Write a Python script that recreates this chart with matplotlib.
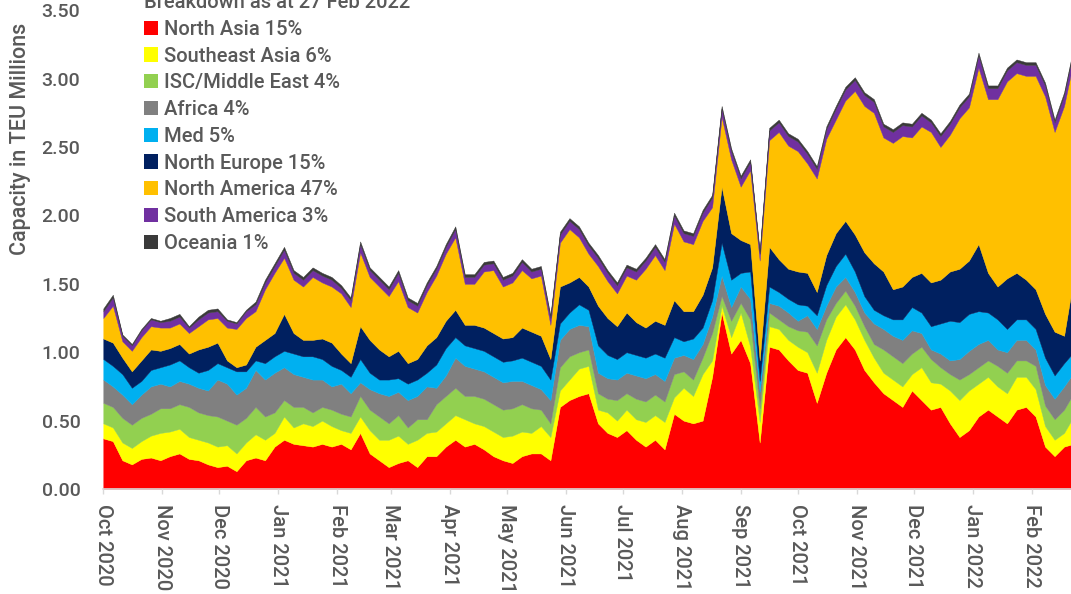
import numpy as np
import pandas as pd
import matplotlib
matplotlib.use("Agg")
import matplotlib.pyplot as plt
import matplotlib.dates as mdates
from matplotlib.patches import Patch

plt.rcParams['font.family'] = ['Roboto', 'DejaVu Sans']
plt.rcParams['font.weight'] = 'medium'

# ---- data: capacity in TEU millions, one sample every 5 days from 1 Oct 2020 ----
start_date = '2020-10-01'
n_points = 103

north_asia = [
    .37, .35, .21, .18, .22, .23, .21, .24, .26, .22, .21, .18, .16, .17, .13, .21, .23,
    .21, .31, .36, .33, .32, .31, .33, .31, .33, .29, .41, .26, .21, .16, .19, .21, .16, .24,
    .24, .31, .36, .31, .33, .29, .24, .21, .19, .24, .26, .26, .21, .60, .65, .68, .70,
    .48, .41, .38, .43, .36, .31, .36, .29, .55, .50, .48, .50, .82, 1.29, .99, 1.09, .92,
    .34,
    1.04, 1.02, .94, .87, .85, .63, .85, 1.02, 1.11, 1.02, .87, .78, .70, .65, .60, .72,
    .65, .58, .60, .48, .38, .43, .53, .58, .53, .48, .58, .60, .53, .31, .24, .31, .33]

southeast_asia = [
    .11, .10, .13, .12, .13, .16, .20, .18, .18, .16, .15, .16, .15, .15, .13, .13, .17,
    .15, .10, .17, .12, .16, .15, .17, .15, .10, .12, .12, .17, .15, .20, .20, .12, .20, .17,
    .18, .17, .18, .20, .15, .17, .18, .17, .20, .18, .15, .20, .17, .12, .15, .20, .20,
    .10, .15, .12, .15, .15, .18, .18, .20, .12, .24, .20, .34, .12, .05, .12, .20, .12,
    .15,
    .15, .15, .15, .17, .15, .22, .24, .24, .24, .22, .22, .18, .15, .15, .15, .12,
    .24, .20, .17, .24, .27, .29, .24, .24, .22, .22, .24, .22, .20, .15, .12, .10, .20]

isc_middle_east = [
    .15, .15, .18, .17, .17, .16, .18, .17, .18, .22, .20, .20, .22, .18, .21, .18, .20,
    .17, .15, .12, .15, .12, .10, .10, .12, .12, .12, .15, .15, .17, .12, .15, .12, .15, .10,
    .20, .20, .20, .17, .20, .20, .20, .20, .20, .20, .18, .12, .10, .17, .17, .12, .12,
    .12, .10, .15, .12, .15, .15, .15, .15, .17, .12, .12, .12, .20, .07, .12, .07, .20,
    .10,
    .10, .07, .10, .12, .15, .20, .15, .10, .10, .10, .10, .10, .17, .17, .17, .15,
    .15, .17, .12, .12, .15, .12, .12, .12, .15, .15, .12, .12, .17, .15, .15, .17, .17]

africa = [
    .17, .15, .17, .15, .17, .20, .18, .16, .17, .17, .18, .18, .27, .27, .22, .22, .27,
    .27, .29, .24, .24, .22, .24, .20, .17, .22, .17, .10, .15, .17, .20, .17, .20, .17, .24,
    .12, .15, .22, .22, .20, .20, .20, .20, .20, .17, .17, .15, .17, .20, .20, .20, .17,
    .15, .15, .15, .15, .17, .17, .15, .15, .12, .12, .15, .10, .12, .15, .10, .12, .15,
    .12,
    .07, .10, .10, .07, .12, .12, .10, .12, .10, .10, .10, .15, .15, .15, .17, .17,
    .10, .07, .10, .10, .15, .17, .17, .15, .12, .15, .15, .15, .12, .15, .15, .17, .15]

med = [
    .15, .15, .15, .12, .10, .12, .12, .16, .15, .12, .11, .15, .12, .12, .17, .12, .07,
    .12, .12, .12, .15, .15, .17, .15, .15, .10, .12, .17, .12, .10, .12, .10, .12, .12, .10,
    .17, .20, .15, .15, .15, .15, .15, .15, .15, .17, .17, .17, .15, .12, .12, .15, .12,
    .20, .17, .15, .15, .15, .15, .15, .17, .15, .10, .15, .12, .12, .24, .20, .10, .20,
    .08,
    .12, .10, .10, .12, .07, .10, .15, .15, .17, .15, .12, .10, .10, .12, .15, .17,
    .15, .17, .22, .29, .27, .27, .24, .20, .22, .17, .15, .15, .15, .20, .17, .17, .15]

north_europe = [
    .15, .17, .12, .12, .15, .15, .12, .12, .12, .10, .17, .17, .15, .05, .03, .05, .10,
    .17, .17, .27, .15, .12, .12, .15, .17, .12, .10, .24, .24, .22, .17, .20, .15, .15, .20,
    .20, .20, .20, .15, .17, .17, .17, .17, .17, .22, .22, .22, .15, .27, .22, .20, .17,
    .29, .27, .24, .29, .24, .22, .24, .24, .27, .22, .20, .24, .24, .41, .34, .24, .20,
    .15,
    .29, .24, .22, .24, .24, .17, .22, .24, .24, .27, .32, .34, .32, .22, .24, .22,
    .29, .32, .32, .36, .39, .39, .49, .29, .24, .37, .34, .29, .29, .32, .32, .20, .54]

north_america = [
    .15, .27, .12, .15, .17, .17, .17, .15, .15, .15, .17, .20, .18, .24, .28, .34, .26,
    .37, .44, .41, .39, .39, .46, .41, .41, .44, .41, .54, .46, .46, .44, .51, .41, .34, .39,
    .45, .49, .53, .30, .30, .41, .46, .38, .40, .42, .39, .44, .25, .32, .39, .29, .24,
    .29, .27, .24, .27, .31, .43, .48, .40, .56, .51, .49, .54, .44, .51, .54, .39, .54,
    .73,
    .78, .93, .90, .88, .80, .83, .85, .83, .88, 1.05, 1.07, 1.10, .98, 1.07, 1.10, 1.02,
    1.07, 1.10, .97, 1.00, 1.10, 1.12, 1.29, 1.27, 1.37, 1.44, 1.46, 1.49, 1.56, 1.59, 1.46, 1.68, 1.59]

south_america = [
    .05, .06, .04, .04, .05, .05, .04, .05, .05, .04, .05, .05, .05, .05, .04, .05, .05,
    .05, .05, .06, .05, .05, .05, .05, .05, .04, .05, .06, .05, .05, .05, .06, .05, .05, .05,
    .05, .05, .06, .05, .05, .05, .05, .05, .05, .06, .05, .05, .05, .06, .06, .06, .06,
    .06, .06, .06, .06, .06, .06, .06, .06, .06, .06, .06, .06, .07, .06, .06, .06, .06,
    .05,
    .07, .07, .07, .07, .07, .07, .07, .08, .08, .08, .08, .08, .08, .08, .08, .08,
    .08, .07, .08, .08, .08, .08, .09, .08, .08, .08, .08, .08, .08, .08, .07, .08, .08]

oceania = [
    .02, .02, .01, .01, .01, .01, .01, .02, .02, .01, .02, .02, .02, .01, .01, .01, .02,
    .02, .02, .02, .02, .02, .02, .02, .02, .02, .02, .02, .02, .02, .02, .02, .02, .02, .02,
    .02, .02, .02, .02, .02, .02, .02, .02, .02, .02, .02, .02, .02, .02, .02, .02, .02,
    .02, .02, .02, .02, .02, .02, .02, .02, .02, .02, .02, .02, .02, .02, .02, .02, .02,
    .02,
    .02, .02, .02, .02, .02, .02, .02, .02, .02, .02, .02, .02, .02, .02, .02, .02,
    .02, .02, .02, .02, .02, .02, .02, .02, .02, .02, .02, .02, .02, .02, .02, .02, .02]

labels = ['North Asia 15%', 'Southeast Asia 6%', 'ISC/Middle East 4%', 'Africa 4%',
          'Med 5%', 'North Europe 15%', 'North America 47%', 'South America 3%',
          'Oceania 1%']
colors = ['#FF0000', '#FFFF00', '#92D050', '#808080', '#00B0F0', '#002060',
          '#FFC000', '#7030A0', '#3A3A3A']
legend_title = 'Breakdown as at 27 Feb 2022'
y_ticks = [0.0, 0.5, 1.0, 1.5, 2.0, 2.5, 3.0, 3.5]

series = [north_asia, southeast_asia, isc_middle_east, africa, med,
          north_europe, north_america, south_america, oceania]
dates = pd.date_range(start_date, periods=n_points, freq='5D')

# ---- figure ----
W, H = 1071, 594
fig = plt.figure(figsize=(W / 100, H / 100), dpi=100)
x0, x1 = 103.3, 1081.2
y0, y1 = 489.0, 10.2
ax = fig.add_axes([x0 / W, (H - y0) / H, (x1 - x0) / W, (y0 - y1) / H])

polys = ax.stackplot(dates, *series, colors=colors, linewidth=0)
for p, c in zip(polys, colors):
    p.set_edgecolor(c)
    p.set_linewidth(0.3)

ax.set_xlim(pd.Timestamp('2020-10-01'), pd.Timestamp('2022-02-27'))
ax.set_ylim(0, 3.5)

grey = '#595959'
ax.xaxis.set_major_locator(mdates.MonthLocator())
ax.xaxis.set_major_formatter(mdates.DateFormatter('%b %Y'))
ax.set_yticks(y_ticks)
ax.yaxis.set_major_formatter(matplotlib.ticker.FormatStrFormatter('%.2f'))

for lab in ax.get_xticklabels():
    lab.set_rotation(-90)
    lab.set_ha('center')
    lab.set_va('top')
ax.tick_params(axis='x', length=3.6, width=1, color='#D9D9D9', pad=7,
               labelsize=14.5, labelcolor=grey)
ax.tick_params(axis='y', length=0, pad=16.5, labelsize=14, labelcolor=grey)

for s in ['top', 'right', 'left']:
    ax.spines[s].set_visible(False)
ax.spines['bottom'].set_color('#D9D9D9')
ax.spines['bottom'].set_linewidth(1.2)

fig.text(21 / W, 1 - 139 / H, 'Capacity in TEU Millions', rotation=90,
         ha='center', va='center', fontsize=15.5, color=grey)

handles = [Patch(facecolor=c, edgecolor='none', label=l) for c, l in zip(colors, labels)]
leg = ax.legend(handles=handles, title=legend_title, loc='upper left',
                bbox_to_anchor=(144 / W, 1 + 7 / H), bbox_transform=fig.transFigure,
                frameon=False, fontsize=14.5, title_fontsize=14.5,
                handlelength=0.7, handleheight=0.7, handletextpad=0.3,
                labelspacing=0.385, borderpad=0, borderaxespad=0, alignment='left')
for t in leg.get_texts():
    t.set_color(grey)
leg.get_title().set_color(grey)

fig.savefig('out.png', dpi=100)
